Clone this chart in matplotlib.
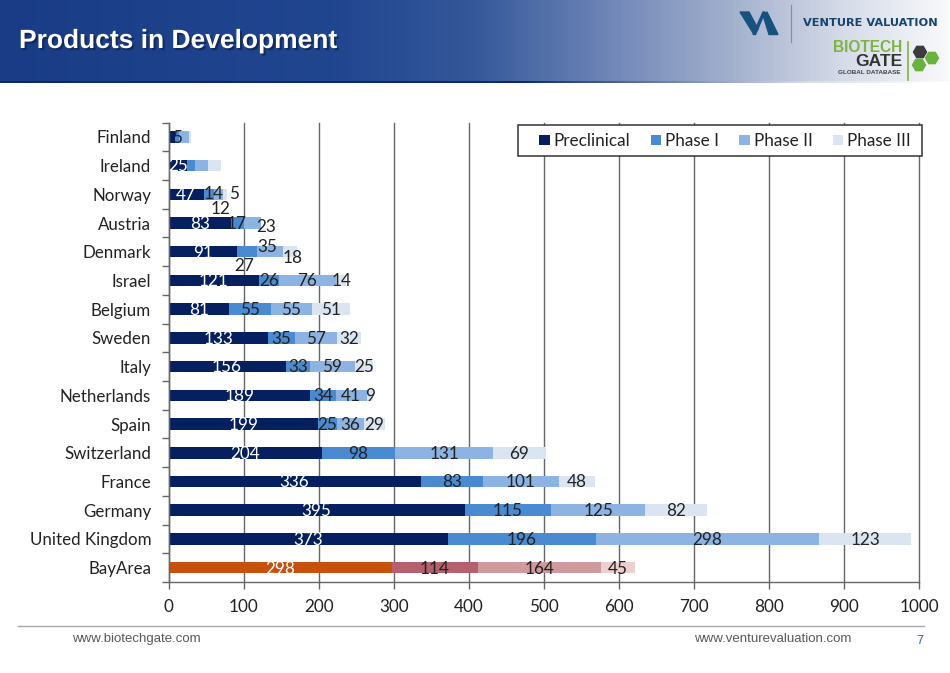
#!/usr/bin/env python3
"""Products in Development slide: stacked bars per country, with slide header and footer."""

import matplotlib
matplotlib.use('Agg')
import matplotlib.pyplot as plt
import matplotlib.patheffects as pe
from matplotlib.colors import LinearSegmentedColormap
from matplotlib.patches import Polygon, Rectangle, RegularPolygon
import numpy as np

# Data, top row first
COUNTRIES = ['Finland', 'Ireland', 'Norway', 'Austria', 'Denmark', 'Israel', 'Belgium', 'Sweden',
             'Italy', 'Netherlands', 'Spain', 'Switzerland', 'France', 'Germany',
             'United Kingdom', 'BayArea']
PRECLINICAL = [9, 25, 47, 83, 91, 121, 81, 133, 156, 189, 199, 204, 336, 395, 373, 298]
PHASE_1 = [5, 10, 14, 17, 27, 26, 55, 35, 33, 34, 25, 98, 83, 115, 196, 114]
PHASE_2 = [13, 18, 12, 23, 35, 76, 55, 57, 59, 41, 36, 131, 101, 125, 298, 164]
PHASE_3 = [3, 17, 5, 0, 18, 14, 51, 32, 25, 9, 29, 69, 48, 82, 123, 45]
PHASES = ['Preclinical', 'Phase I', 'Phase II', 'Phase III']
XTICKS = [0, 100, 200, 300, 400, 500, 600, 700, 800, 900, 1000]

COLORS = ['#06205F', '#4A8AD0', '#8DB3E2', '#DBE5F1']
BAY_COLORS = ['#C8500F', '#B4606E', '#CF9A9E', '#EDCFCF']
LABEL_FONT = 'Lato'
TEXT_COLOR = '#222222'

# labels that the chart hides, and the ones moved off centre (dx in values, dy in rows)
HIDDEN = {(0, 0), (0, 2), (0, 3), (1, 1), (1, 2), (1, 3), (3, 3)}
NUDGE = {(2, 1): (6, -0.05), (2, 2): (2, 0.48), (2, 3): (12, -0.03), (3, 1): (-1, 0),
         (3, 2): (19, 0.1), (4, 1): (-4, 0.47), (4, 2): (-4, -0.2), (4, 3): (4, 0.2)}

fig = plt.figure(figsize=(9.5, 6.73), dpi=100, facecolor='white')

# Slide layer in pixel coordinates
bg = fig.add_axes([0, 0, 1, 1], zorder=0)
bg.axis('off')

header_cmap = LinearSegmentedColormap.from_list(
    'header', [(0, '#1A3C87'), (0.35, '#214690'), (0.5, '#35589A'), (0.64, '#6E85B6'),
               (0.77, '#A2B0CD'), (0.89, '#D5DBE8'), (1, '#F8F9FB')])
line_cmap = LinearSegmentedColormap.from_list(
    'header_line', [(0, '#0B2A6E'), (0.55, '#0B2A6E'), (0.7, '#6E7FA6'), (0.85, '#D8DDE8'), (1, '#FFFFFF')])
ramp = np.linspace(0, 1, 950).reshape(1, -1)
bg.imshow(ramp, cmap=header_cmap, aspect='auto', extent=[0, 950, 81, 0], zorder=1)
bg.imshow(ramp, cmap=line_cmap, aspect='auto', extent=[0, 950, 83, 81], zorder=1)
bg.set_xlim(0, 950)
bg.set_ylim(673, 0)

bg.text(19, 41, 'Products in Development', color='white', fontsize=19, fontweight='bold',
        family='Liberation Sans', va='center', ha='left', zorder=3,
        path_effects=[pe.withSimplePatchShadow(offset=(1.5, -1.5), shadow_rgbFace='#10264f', alpha=0.8)])

# Venture Valuation logo
LOGO_BLUE = '#17527F'
bg.add_patch(Polygon([(740, 12), (749, 12), (758, 29), (754, 34.5)], color=LOGO_BLUE, zorder=3))
bg.add_patch(Polygon([(753, 34.5), (763, 12), (765, 12), (755.5, 34.5)], color=LOGO_BLUE, zorder=3))
bg.add_patch(Polygon([(763, 15), (767, 12), (778, 34.5), (769, 34.5)], color=LOGO_BLUE, zorder=3))
bg.plot([791, 791], [5, 42], color='#7F8FA8', linewidth=0.8, zorder=3)
bg.text(803, 23, 'VENTURE VALUATION', color='#17456F', fontsize=8.2, fontweight='bold',
        family='DejaVu Sans', va='center', ha='left', zorder=3)

# Biotech Gate logo
bg.text(902, 47, 'BIOTECH', color='#7DB442', fontsize=11.2, fontweight='bold',
        family='Liberation Sans', va='center', ha='right', zorder=3)
bg.text(902, 62, 'GATE', color='#333333', fontsize=12.5, fontweight='bold',
        family='Liberation Sans', va='center', ha='right', zorder=3)
bg.text(901, 73, 'GLOBAL DATABASE', color='#444444', fontsize=4.6, fontweight='bold',
        family='Liberation Sans', va='center', ha='right', zorder=3)
bg.plot([908, 908], [42, 80], color='#7DB442', linewidth=1.2, zorder=3)
for cx, cy, hex_color in [(920, 52, '#3C3C3C'), (932, 58, '#6AB23E'), (919, 65, '#6AB23E')]:
    bg.add_patch(RegularPolygon((cx, cy), 6, radius=6.5, orientation=np.pi / 6,
                                color=hex_color, zorder=3))

# Footer
bg.plot([18, 924], [626, 626], color='#A6A6A6', linewidth=1, zorder=2)
bg.text(72, 639, 'www.biotechgate.com', color='#595959', fontsize=9.5,
        family='Liberation Sans', va='center', ha='left')
bg.text(694, 639, 'www.venturevaluation.com', color='#595959', fontsize=9.5,
        family='Liberation Sans', va='center', ha='left')
bg.text(920, 641, '7', color='#3B5E9E', fontsize=9,
        family='Liberation Sans', va='center', ha='center')

# Chart
ax = fig.add_axes([168.5 / 950, 1 - 582 / 673, (919 - 168.5) / 950, (582 - 122.5) / 673], zorder=2)
ax.patch.set_alpha(0)

y = np.arange(len(COUNTRIES))
left = np.zeros(len(COUNTRIES))
for s, values in enumerate([PRECLINICAL, PHASE_1, PHASE_2, PHASE_3]):
    bar_colors = [COLORS[s]] * (len(COUNTRIES) - 1) + [BAY_COLORS[s]]
    ax.barh(y, values, left=left, height=0.4, color=bar_colors, label=PHASES[s], zorder=2)
    for r, val in enumerate(values):
        if (r, s) in HIDDEN:
            continue
        dx, dy = NUDGE.get((r, s), (0, 0))
        ax.text(left[r] + val / 2 + dx, r + dy + 0.03, str(val), ha='center', va='center',
                fontsize=12.3, family=LABEL_FONT, zorder=4,
                color='white' if s == 0 else TEXT_COLOR)
    left += np.array(values)

ax.set_xlim(0, 1000)
ax.set_ylim(len(COUNTRIES) - 0.5, -0.5)
ax.set_xticks(XTICKS)
ax.set_yticks(y)
ax.set_yticklabels(COUNTRIES)
ax.set_yticks(np.arange(-0.5, len(COUNTRIES)), minor=True)
ax.tick_params(axis='y', which='major', length=0, pad=12.5, labelsize=12.2, labelcolor=TEXT_COLOR)
ax.tick_params(axis='y', which='minor', length=5, width=1, color='#666666')
ax.tick_params(axis='x', length=5, width=1, color='#666666', pad=7, labelsize=12.3, labelcolor=TEXT_COLOR)
for lab in ax.get_xticklabels() + ax.get_yticklabels():
    lab.set_family(LABEL_FONT)

ax.grid(True, axis='x', color='#666666', linewidth=1, zorder=1)
ax.set_axisbelow(True)
for gridline in ax.get_xgridlines():
    gridline.set_clip_on(False)
for side in ['top', 'right']:
    ax.spines[side].set_visible(False)
for side in ['left', 'bottom']:
    ax.spines[side].set_color('#666666')
    ax.spines[side].set_linewidth(1)

# legend box is drawn apart since its padding is wider than tall
ax.add_patch(Rectangle((518, 124.5), 404, 31.5, transform=bg.transData, facecolor='white',
                       edgecolor='#333333', linewidth=1.1, clip_on=False, zorder=5))
handles, labels = ax.get_legend_handles_labels()
leg = ax.legend(handles, labels, ncol=4, loc='center left', frameon=False,
                bbox_to_anchor=((535 - 168.5) / 750.5, 1 - (141 - 122.5) / 459.5), borderaxespad=0,
                prop={'family': LABEL_FONT, 'size': 12.3}, handlelength=0.6, handleheight=0.6,
                handletextpad=0.23, columnspacing=1.2, borderpad=0.25, labelcolor=TEXT_COLOR)
leg.set_zorder(6)

plt.savefig('out.png', dpi=100)
